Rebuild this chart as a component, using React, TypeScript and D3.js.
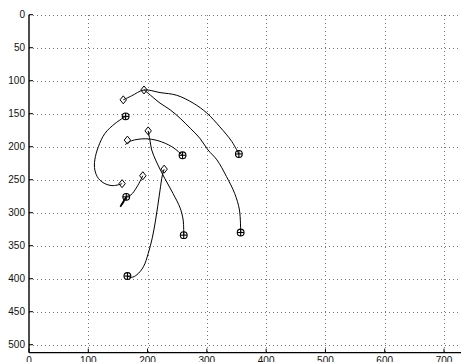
import React from 'react';
import * as d3 from 'd3';

type Pt = [number, number];

// tick labels
const xTicks = [0, 100, 200, 300, 400, 500, 600, 700];
const yTicks = [0, 50, 100, 150, 200, 250, 300, 350, 400, 450, 500];

// trajectories (x, y in image coordinates, y grows downward)
const trackBM: Pt[] = [
  [159, 129], [173, 123], [194, 114], [221, 118], [249, 122], [277, 134],
  [300, 149], [322, 170], [342, 192], [354, 211],
];
const trackAN: Pt[] = [
  [194, 114], [201, 119], [221, 134], [238, 144], [255, 157], [272, 172],
  [288, 187], [302, 205], [317, 220], [333, 245], [347, 271], [355, 296], [357, 330],
];
const trackCI: Pt[] = [
  [163, 154], [145, 165], [128, 180], [117, 200], [111, 220], [111, 235],
  [117, 248], [128, 256], [142, 259], [157, 256],
];
const trackEF: Pt[] = [
  [162, 197], [173, 191], [196, 188], [218, 191], [241, 200], [259, 213],
];
const trackDK: Pt[] = [
  [201, 176], [204, 190], [207, 205], [215, 223], [229, 248], [243, 271],
  [255, 293], [260, 311], [261, 334],
];
const trackGL: Pt[] = [
  [228, 234], [225, 243], [221, 266], [217, 291], [213, 314], [208, 338],
  [201, 362], [193, 382], [182, 394], [173, 398], [166, 396],
];
const trackHJ: Pt[] = [
  [192, 244], [182, 261], [172, 273], [164, 276], [155, 290],
];
// short back-and-forth wiggle at the end of the last track
const tailHJ: Pt[] = [
  [164, 277], [155, 289], [160, 283], [154, 291], [158, 285],
];
const tracks = [trackBM, trackAN, trackCI, trackEF, trackDK, trackGL, trackHJ];

// markers
const diamonds: Pt[] = [
  [159, 129], [194, 114], [201, 176], [166, 190], [228, 234], [192, 244], [157, 256],
];
const circles: Pt[] = [
  [163, 154], [259, 213], [164, 276], [261, 334], [166, 396], [354, 211], [357, 330],
];

const W = 461;
const H = 362;

const App = () => {
  const x = d3.scaleLinear().domain([0, 700]).range([29, 444]);
  const y = d3.scaleLinear().domain([0, 500]).range([14.7, 344.7]);
  const xMax = x.invert(W);
  const yMax = 512;

  const line = d3.line<Pt>()
    .x(d => x(d[0]))
    .y(d => y(d[1]))
    .curve(d3.curveCatmullRom.alpha(0.5));

  const tail = d3.line<Pt>()
    .x(d => x(d[0]))
    .y(d => y(d[1]));

  const font = '"Liberation Sans", Arial, Helvetica, sans-serif';

  return (
    <svg
      width={W}
      height={H}
      style={{ position: 'absolute', left: 0, top: 0, background: '#fff' }}
    >
      <rect x={0} y={0} width={W} height={H} fill="#fff" />
      {/* grid */}
      <g stroke="#777" strokeWidth={1} strokeDasharray="1,3" shapeRendering="crispEdges">
        {yTicks.map(t => (
          <line key={'gy' + t} x1={x(0)} x2={x(xMax)} y1={Math.round(y(t)) + 0.5} y2={Math.round(y(t)) + 0.5} />
        ))}
        {xTicks.filter(t => t > 0).map(t => (
          <line key={'gx' + t} x1={Math.round(x(t)) + 0.5} x2={Math.round(x(t)) + 0.5} y1={y(0)} y2={y(yMax)} />
        ))}
      </g>

      {/* axes */}
      <g stroke="#000" strokeWidth={1.4} fill="none">
        <line x1={x(0)} x2={x(0)} y1={y(0)} y2={y(yMax)} />
        <line x1={x(0)} x2={W} y1={y(yMax)} y2={y(yMax)} />
        {yTicks.map(t => (
          <line key={'ty' + t} x1={x(0)} x2={x(0) + 4} y1={y(t)} y2={y(t)} strokeWidth={1} />
        ))}
        {xTicks.map(t => (
          <line key={'tx' + t} x1={x(t)} x2={x(t)} y1={y(yMax)} y2={y(yMax) - 4} strokeWidth={1} />
        ))}
      </g>

      <g fontFamily={font} fontSize={10} fill="#111">
        {yTicks.map(t => (
          <text key={'ly' + t} x={x(0) - 4} y={y(t)} textAnchor="end" dominantBaseline="central">
            {t}
          </text>
        ))}
        {xTicks.map(t => (
          <text key={'lx' + t} x={x(t)} y={y(yMax) + 11.5} textAnchor="middle">
            {t}
          </text>
        ))}
      </g>

      {/* trajectories */}
      <g fill="none" stroke="#000" strokeWidth={1}>
        {tracks.map((tr, i) => (
          <path key={'tr' + i} d={line(tr) || ''} />
        ))}
        <path d={tail(tailHJ) || ''} strokeWidth={1.6} />
      </g>

      {/* diamond markers */}
      <g fill="none" stroke="#000" strokeWidth={1}>
        {diamonds.map((d, i) => {
          const cx = x(d[0]);
          const cy = y(d[1]);
          return (
            <path
              key={'dm' + i}
              d={`M${cx},${cy - 4}L${cx + 3.2},${cy}L${cx},${cy + 4}L${cx - 3.2},${cy}Z`}
            />
          );
        })}
      </g>

      {/* circle-plus markers */}
      <g fill="none" stroke="#000" strokeWidth={1.1}>
        {circles.map((d, i) => {
          const cx = x(d[0]);
          const cy = y(d[1]);
          return (
            <g key={'cm' + i}>
              <circle cx={cx} cy={cy} r={3.4} />
              <line x1={cx - 3.4} x2={cx + 3.4} y1={cy} y2={cy} />
              <line x1={cx} x2={cx} y1={cy - 3.4} y2={cy + 3.4} />
            </g>
          );
        })}
      </g>
    </svg>
  );
};

export default App;
